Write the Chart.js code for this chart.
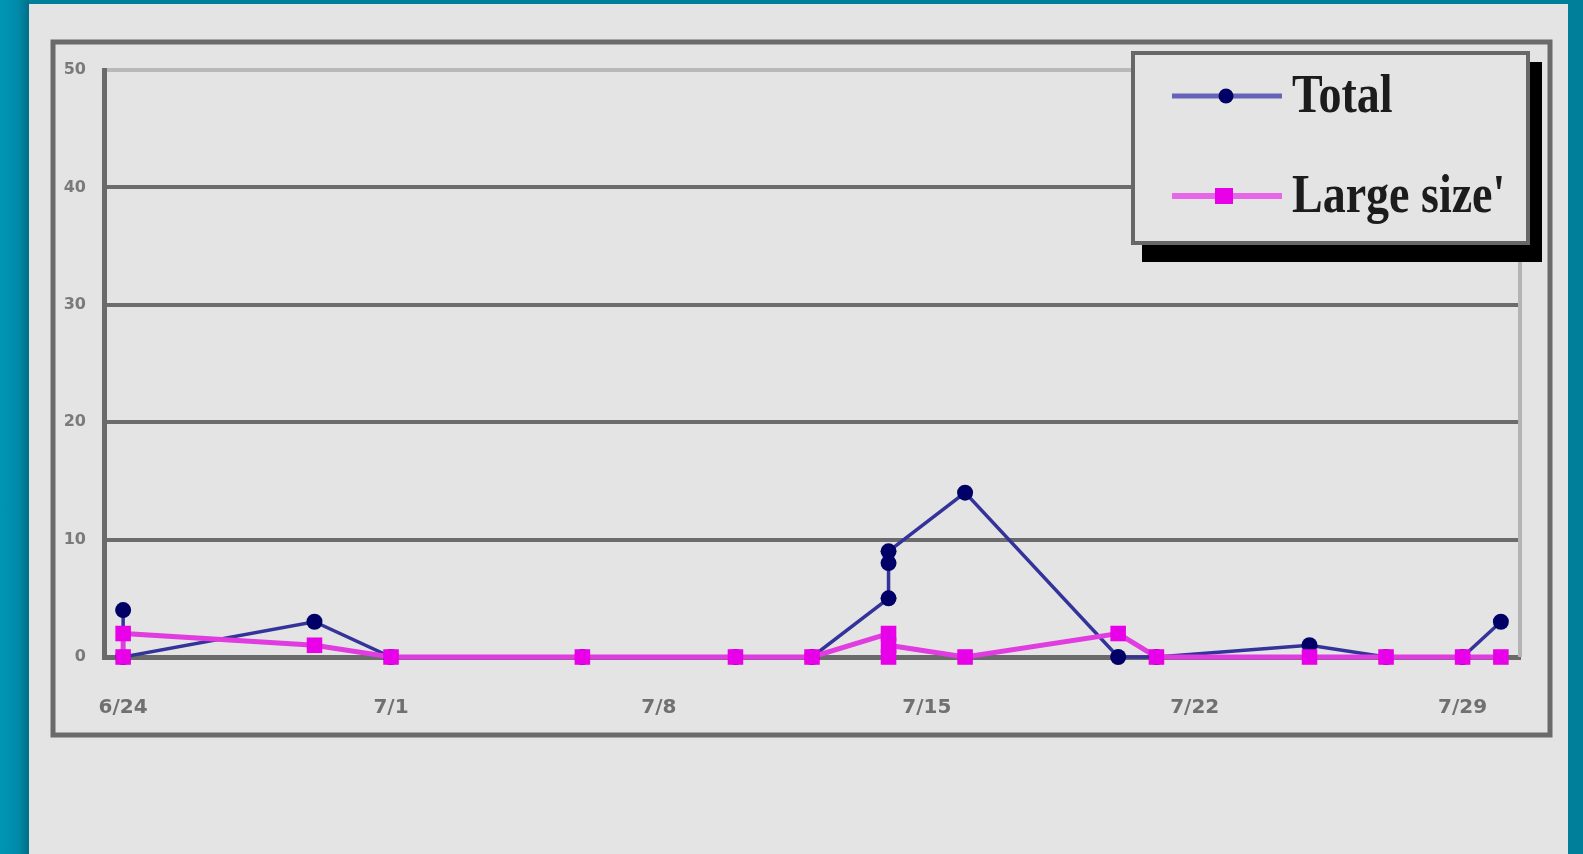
<!DOCTYPE html>
<html>
<head>
<meta charset="utf-8">
<script src="https://cdn.jsdelivr.net/npm/chart.js@4/dist/chart.umd.min.js"></script>
<style>
  html, body { margin: 0; padding: 0; width: 1583px; height: 854px; overflow: hidden; background: #007f9b; }
  #edge { position: absolute; left: 0; top: 0; width: 29px; height: 854px;
          background: linear-gradient(to right, #0096b4 0px, #008aa8 18px, #006f89 29px); }
  #wrap { position: absolute; left: 29px; top: 4px; width: 1539px; height: 850px; background: #e4e4e4; }
  canvas { display: block; }
</style>
</head>
<body>
<div id="edge"></div>
<div id="wrap"><canvas id="c" width="1539" height="850"></canvas></div>
<script>
// Days counted from 6/24; several samples can share one day.
const tickDays   = [0, 7, 14, 21, 28, 35];
const dayLabels  = ['6/24', '7/1', '7/8', '7/15', '7/22', '7/29'];
const yTicks     = [0, 10, 20, 30, 40, 50];
const sampleDays = [0, 0, 5, 7, 12, 16, 18, 20, 20, 20, 22, 26, 27, 31, 33, 35, 36];
const totalCounts = [4, 0, 3, 0, 0, 0, 0, 5, 8, 9, 14, 0, 0, 1, 0, 0, 3];
const largeCounts = [0, 2, 1, 0, 0, 0, 0, 2, 0, 1, 0, 2, 0, 0, 0, 0, 0];

const toPoints = (vals) => sampleDays.map((d, i) => ({ x: d, y: vals[i] }));

// Outer frame and the pale right edge of the plot area
const framePlugin = {
  id: 'frame',
  beforeDraw(chart) {
    const c = chart.ctx;
    c.save();
    c.strokeStyle = '#6a6a6a';
    c.lineWidth = 5;
    c.strokeRect(24, 38, 1497, 693);
    c.restore();
  },
  beforeDatasetsDraw(chart) {
    const { ctx: c, chartArea: a } = chart;
    c.save();
    c.strokeStyle = '#b4b4b4';
    c.lineWidth = 4;
    c.beginPath();
    c.moveTo(a.right, a.top);
    c.lineTo(a.right, a.bottom);
    c.stroke();
    c.restore();
  }
};

// Boxed legend with a drop shadow, inside the plot's upper right corner
const legendBox = {
  id: 'legendBox',
  afterDraw(chart) {
    const c = chart.ctx;
    const box = { x: 1104, y: 49, w: 395, h: 190 };
    c.save();
    c.fillStyle = '#000';
    c.fillRect(box.x + 9, box.y + 9, box.w + 5, box.h + 10);
    c.fillStyle = '#e4e4e4';
    c.fillRect(box.x, box.y, box.w, box.h);
    c.strokeStyle = '#676767';
    c.lineWidth = 4;
    c.strokeRect(box.x, box.y, box.w, box.h);

    const rows = [
      { y: 92, base: 108, line: '#6464b8', lw: 5 },
      { y: 192, base: 208, line: '#e866e8', lw: 6 }
    ];
    chart.data.datasets.forEach((ds, i) => {
      const r = rows[i];
      c.strokeStyle = r.line;
      c.lineWidth = r.lw;
      c.beginPath();
      c.moveTo(1143, r.y);
      c.lineTo(1253, r.y);
      c.stroke();
      c.fillStyle = ds.pointBackgroundColor;
      if (ds.pointStyle === 'rect') {
        c.fillRect(1186, r.y - 8, 18, 16);
      } else {
        c.beginPath();
        c.arc(1197, r.y, 7.5, 0, Math.PI * 2);
        c.fill();
      }
      c.save();
      c.translate(1263, r.base);
      c.scale(1, 1.2);
      c.fillStyle = '#1c1c1c';
      c.font = 'bold 46px "Liberation Serif", "Times New Roman", serif';
      c.textBaseline = 'alphabetic';
      c.fillText(ds.label, 0, 0);
      c.restore();
    });
    c.restore();
  }
};

new Chart(document.getElementById('c'), {
  type: 'line',
  data: {
    datasets: [
      {
        label: 'Total',
        data: toPoints(totalCounts),
        borderColor: '#333399',
        borderWidth: 3.5,
        pointStyle: 'circle',
        pointRadius: 8,
        pointBorderWidth: 0,
        pointBackgroundColor: '#000066',
        pointBorderColor: '#000066',
        tension: 0,
        clip: false,
        order: 1
      },
      {
        label: "Large size'",
        data: toPoints(largeCounts),
        borderColor: '#e03ce0',
        borderWidth: 5,
        pointStyle: 'rect',
        pointRadius: 11,
        pointBorderWidth: 0,
        pointBackgroundColor: '#e800e8',
        pointBorderColor: '#e800e8',
        tension: 0,
        clip: false,
        order: 0
      }
    ]
  },
  options: {
    responsive: false,
    animation: false,
    layout: { padding: { left: 0, top: 66, right: 48, bottom: 137 } },
    plugins: { legend: { display: false }, tooltip: { enabled: false } },
    scales: {
      x: {
        type: 'linear',
        min: -0.5,
        max: 36.5,
        afterBuildTicks: (s) => { s.ticks = tickDays.map(v => ({ value: v })); },
        afterFit: (s) => { s.height = 60; },
        grid: { display: false, drawTicks: false },
        border: { display: true, color: '#6a6a6a', width: 5 },
        ticks: {
          autoSkip: false,
          maxRotation: 0,
          padding: 39,
          color: '#707070',
          font: { family: 'DejaVu Sans', weight: 'bold', size: 20 },
          callback: (v) => { const i = tickDays.indexOf(v); return i >= 0 ? dayLabels[i] : ''; }
        }
      },
      y: {
        min: 0,
        max: 50,
        afterBuildTicks: (s) => { s.ticks = yTicks.map(v => ({ value: v })); },
        afterFit: (s) => { s.width = 75; },
        grid: {
          drawTicks: false,
          lineWidth: 4,
          color: (ctx) => (ctx.tick && ctx.tick.value === 50 ? '#b8b8b8' : '#6c6c6c')
        },
        border: { display: true, color: '#6a6a6a', width: 5 },
        ticks: {
          padding: 18,
          color: '#7a7a7a',
          font: { family: 'DejaVu Sans', weight: 'bold', size: 16 }
        }
      }
    }
  },
  plugins: [framePlugin, legendBox]
});
</script>
</body>
</html>
